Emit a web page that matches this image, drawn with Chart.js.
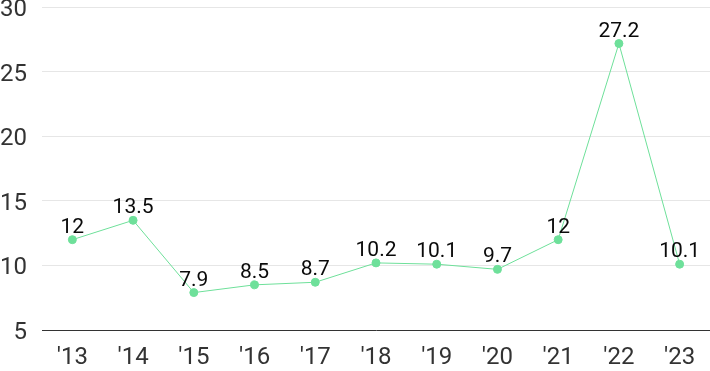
<!DOCTYPE html>
<html>
<head>
<meta charset="utf-8">
<script src="https://cdn.jsdelivr.net/npm/chart.js@4"></script>
<style>
  html, body { margin: 0; padding: 0; background: #fff; overflow: hidden; }
  #wrap { width: 715px; height: 393px; margin-top: -22px; }
</style>
</head>
<body>
<div id="wrap"><canvas id="chart"></canvas></div>
<script>
const years = ["'13", "'14", "'15", "'16", "'17", "'18", "'19", "'20", "'21", "'22", "'23"];
const values = [12, 13.5, 7.9, 8.5, 8.7, 10.2, 10.1, 9.7, 12, 27.2, 10.1];
const yTicks = [5, 10, 15, 20, 25, 30];

// etiquetas encima de cada punto
const valueLabels = {
    id: 'valueLabels',
    afterDatasetsDraw(chart) {
        const ctx = chart.ctx;
        const meta = chart.getDatasetMeta(0);
        ctx.save();
        ctx.font = '21px Roboto';
        ctx.fillStyle = '#0a0a0a';
        ctx.textAlign = 'center';
        ctx.textBaseline = 'alphabetic';
        meta.data.forEach((pt, i) => {
            ctx.fillText(String(values[i]), pt.x, pt.y - 7);
        });
        ctx.restore();
    }
};

new Chart(document.getElementById('chart'), {
    type: 'line',
    data: {
        labels: years,
        datasets: [{
            data: values,
            borderColor: '#6ee09a',
            backgroundColor: '#6ee09a',
            borderWidth: 1,
            pointRadius: 4,
            pointHoverRadius: 4,
            tension: 0
        }]
    },
    options: {
        responsive: true,
        maintainAspectRatio: false,
        animation: false,
        layout: { padding: { top: 7, right: 0, left: 0, bottom: 0 } },
        plugins: { legend: { display: false }, tooltip: { enabled: false } },
        scales: {
            x: {
                offset: true,
                grid: { display: false, drawTicks: false },
                border: { display: true, color: '#333', width: 1 },
                ticks: { color: '#333', font: { size: 24, family: 'Roboto' }, padding: 14 },
                afterFit: s => { s.height = 41; }
            },
            y: {
                min: 5,
                max: 30,
                afterBuildTicks: s => { s.ticks = yTicks.map(v => ({ value: v })); },
                grid: { color: '#e6e6e6', drawTicks: false },
                border: { display: false },
                ticks: { color: '#333', font: { size: 24, family: 'Roboto' }, padding: 15, labelOffset: 3 },
                afterFit: s => { s.width = 42; }
            }
        }
    },
    plugins: [valueLabels]
});
</script>
</body>
</html>
